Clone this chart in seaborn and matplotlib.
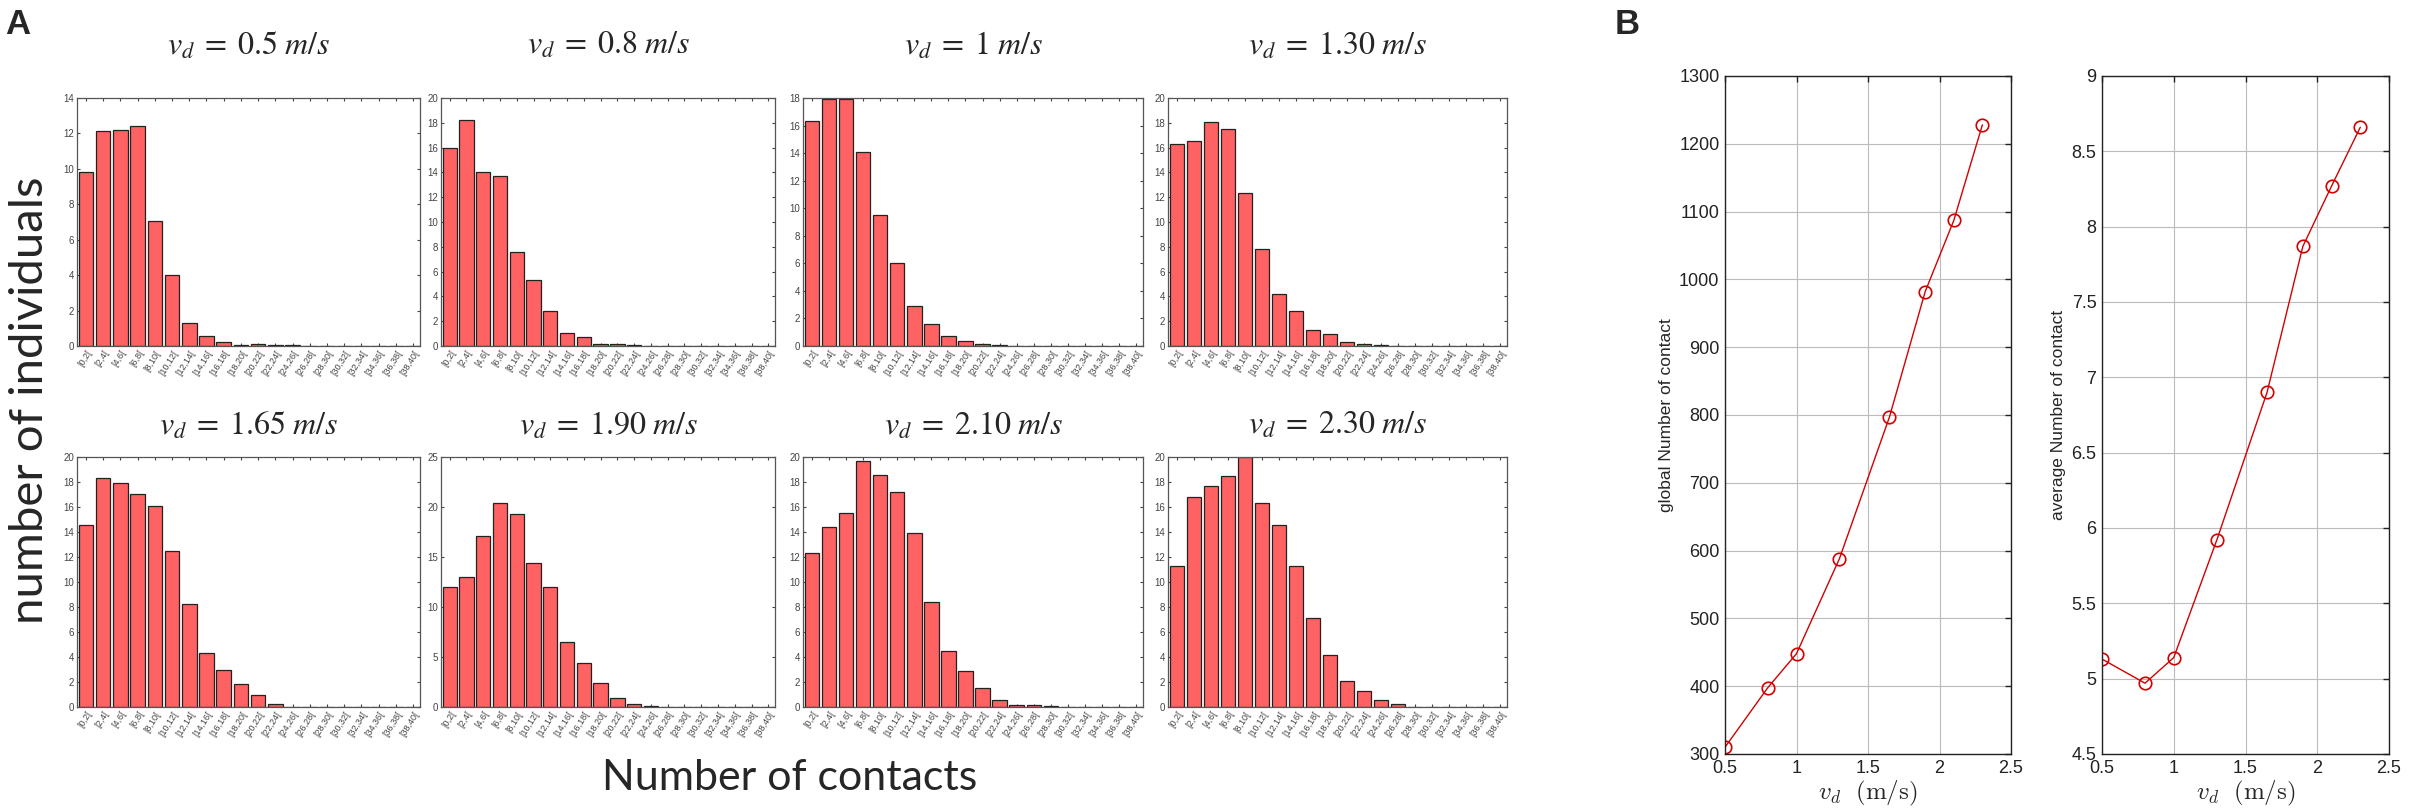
import numpy as np
import pandas as pd
import seaborn as sns
import matplotlib
matplotlib.use("Agg")
import matplotlib.pyplot as plt

# histogram bins (number of contacts)
bins = ["[%d,%d[" % (i, i + 2) for i in range(0, 40, 2)]

speeds = [0.5, 0.8, 1.0, 1.3, 1.65, 1.9, 2.1, 2.3]
speed_labels = ["0.5", "0.8", "1", "1.30", "1.65", "1.90", "2.10", "2.30"]

h_05 = [9.8, 12.15, 12.2, 12.4, 7.05, 4.0, 1.3, 0.58, 0.24, 0.05, 0.09, 0.06, 0.06, 0, 0, 0, 0, 0, 0, 0]
h_08 = [16.0, 18.2, 14.05, 13.7, 7.6, 5.3, 2.85, 1.06, 0.7, 0.2, 0.2, 0.12, 0, 0, 0, 0, 0, 0, 0, 0]
h_10 = [16.3, 17.9, 17.9, 14.1, 9.5, 6.0, 2.9, 1.6, 0.7, 0.35, 0.13, 0.05, 0, 0, 0, 0, 0, 0, 0, 0]
h_13 = [16.3, 16.5, 18.1, 17.5, 12.3, 7.85, 4.2, 2.8, 1.3, 0.95, 0.35, 0.2, 0.05, 0, 0, 0, 0, 0, 0, 0]
h_165 = [14.6, 18.35, 17.9, 17.05, 16.1, 12.45, 8.25, 4.3, 2.95, 1.87, 0.95, 0.27, 0, 0, 0, 0, 0, 0, 0, 0]
h_19 = [12.0, 13.0, 17.1, 20.4, 19.3, 14.4, 12.0, 6.5, 4.4, 2.4, 0.9, 0.3, 0.1, 0.05, 0, 0, 0, 0, 0, 0]
h_21 = [12.3, 14.4, 15.5, 19.7, 18.55, 17.2, 13.9, 8.4, 4.5, 2.9, 1.5, 0.6, 0.13, 0.2, 0.05, 0, 0, 0, 0, 0]
h_23 = [11.25, 16.8, 17.65, 18.5, 20.0, 16.3, 14.6, 11.25, 7.1, 4.2, 2.1, 1.25, 0.6, 0.27, 0, 0, 0, 0, 0, 0]
hists = [h_05, h_08, h_10, h_13, h_165, h_19, h_21, h_23]
ymax = [14, 20, 18, 20, 20, 25, 20, 20]
ystep = [2, 2, 2, 2, 2, 5, 2, 2]

# panel B
global_contacts = [310, 398, 448, 588, 797, 982, 1087, 1228]
average_contacts = [5.13, 4.97, 5.14, 5.92, 6.9, 7.87, 8.27, 8.66]

W, H = 2410, 810
sns.set_theme(style="white")
plt.rcParams["font.family"] = ["Liberation Sans", "DejaVu Sans"]


def box(l, t, r, b):
    return [l / W, 1 - b / H, (r - l) / W, (b - t) / H]


fig = plt.figure(figsize=(W / 100, H / 100), dpi=100)

cols = [(77, 420), (441, 775), (803, 1143), (1168, 1507)]
rows = [(98, 346), (457, 707)]
title_y = [46, 426]

for k in range(8):
    r, c = divmod(k, 4)
    ax = fig.add_axes(box(cols[c][0], rows[r][0], cols[c][1], rows[r][1]))
    df = pd.DataFrame({"bin": bins, "count": hists[k]})
    sns.barplot(data=df, x="bin", y="count", ax=ax, color="#ff6262", saturation=1,
                edgecolor="#222222", linewidth=0.9, width=0.85)
    ax.set_xlim(-0.52, 19.4)
    ax.set_ylim(0, ymax[k])
    ax.set_yticks(np.arange(0, ymax[k] + 0.1, ystep[k]))
    ax.set_xlabel("")
    ax.set_ylabel("")
    ax.tick_params(axis="both", direction="in", length=2.5, width=0.8, colors="#444444",
                   top=True, right=True, bottom=True, left=True, labelsize=7, pad=2)
    ax.tick_params(axis="x", labelsize=6.5)
    for lab in ax.get_xticklabels():
        lab.set_rotation(58)
        lab.set_ha("right")
        lab.set_rotation_mode("anchor")
    for s in ax.spines.values():
        s.set_color("#555555")
        s.set_linewidth(0.9)
    cx = (cols[c][0] + cols[c][1]) / 2 / W
    title = r"$v_d\;=\;%s\;m/s$" % speed_labels[k]
    fig.text(cx, 1 - title_y[r] / H, title, ha="center", va="center", fontsize=23,
             math_fontfamily="stix")

fig.text(30 / W, 1 - 400 / H, "number of individuals", rotation=90, ha="center", va="center",
         fontsize=34, family=["Lato", "DejaVu Sans"])
fig.text(790 / W, 1 - 778 / H, "Number of contacts", ha="center", va="center",
         fontsize=31, family=["Lato", "DejaVu Sans"])
fig.text(5 / W, 1 - 24 / H, "A", ha="left", va="center", fontsize=25, fontweight="bold")
fig.text(1615 / W, 1 - 24 / H, "B", ha="left", va="center", fontsize=25, fontweight="bold")

b_axes = [box(1725, 76, 2011, 754), box(2102, 76, 2389, 754)]
b_data = [global_contacts, average_contacts]
b_ylabels = ["global Number of contact", "average Number of contact"]
b_ylim = [(300, 1300), (4.5, 9)]
b_yticks = [np.arange(300, 1301, 100), np.arange(4.5, 9.01, 0.5)]

for j in range(2):
    ax = fig.add_axes(b_axes[j])
    sns.lineplot(x=speeds, y=b_data[j], ax=ax, color="#d40000", linewidth=1.0, marker="o",
                 markersize=9, markerfacecolor="none", markeredgecolor="#d40000",
                 markeredgewidth=1.2)
    ax.set_xlim(0.5, 2.5)
    ax.set_ylim(*b_ylim[j])
    ax.set_xticks([0.5, 1, 1.5, 2, 2.5])
    ax.set_xticklabels(["0.5", "1", "1.5", "2", "2.5"])
    ax.set_yticks(b_yticks[j])
    ax.set_yticklabels(["%g" % v for v in b_yticks[j]])
    ax.grid(True, color="#bbbbbb", linewidth=0.8)
    ax.tick_params(axis="both", direction="in", length=4, width=1, colors="#222222",
                   top=True, right=True, labelsize=13, pad=4)
    for lab in ax.get_xticklabels() + ax.get_yticklabels():
        lab.set_family(["Liberation Sans Narrow", "Liberation Sans"])
    for s in ax.spines.values():
        s.set_color("#222222")
        s.set_linewidth(1.0)
    ax.set_ylabel(b_ylabels[j], fontsize=12.5, labelpad=4)
    ax.set_xlabel(r"$v_d\ \ (\mathrm{m/s})$", fontsize=18, math_fontfamily="cm", labelpad=2)

fig.savefig("out.png", dpi=100)
